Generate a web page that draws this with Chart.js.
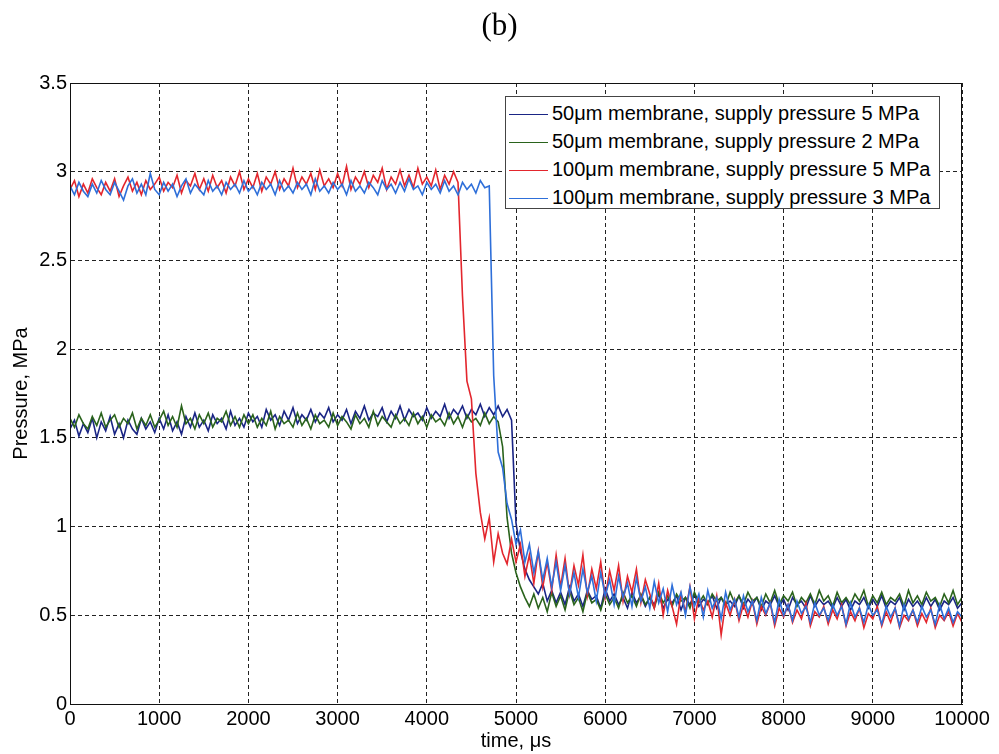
<!DOCTYPE html>
<html lang="en">
<head>
    <meta charset="UTF-8">
    <title>Pressure vs time</title>
    <script src="https://cdn.jsdelivr.net/npm/chart.js"></script>
    <style>
        body {
            margin: 0;
            background: #fff;
            font-family: "Liberation Sans", Arial, sans-serif;
        }
        #wrap {
            position: relative;
            width: 999px;
            height: 754px;
        }
        #legend {
            position: absolute;
            left: 505px;
            top: 96px;
            width: 435px;
            height: 113px;
            border: 1px solid #444;
            background: #fff;
            box-sizing: border-box;
            padding-top: 2px;
        }
        .row {
            height: 28px;
            line-height: 28px;
            font-size: 20px;
            color: #000;
            white-space: nowrap;
        }
        .swatch {
            display: inline-block;
            width: 39px;
            height: 0;
            border-top: 1px solid;
            vertical-align: middle;
            margin-left: 3px;
            margin-right: 4px;
        }
    </style>
</head>
<body>
<div id="wrap">
    <canvas id="chart" width="999" height="754"></canvas>
    <div id="legend"></div>
</div>

<script>
    // time axis, 50 us step from 0 to 10000
    const timeUs = Array.from({ length: 201 }, (_, i) => i * 50);

    const seriesNames = [
        '50\u03bcm membrane, supply pressure 5 MPa',
        '50\u03bcm membrane, supply pressure 2 MPa',
        '100\u03bcm membrane, supply pressure 5 MPa',
        '100\u03bcm membrane, supply pressure 3 MPa'
    ];
    const seriesColors = ['#1a2585', '#2a631c', '#e3262d', '#2e6fd9'];

    const xTickLabels = ['0', '1000', '2000', '3000', '4000', '5000', '6000', '7000', '8000', '9000', '10000'];
    const yTickLabels = ['0', '0.5', '1', '1.5', '2', '2.5', '3', '3.5'];

    // 50um, 5 MPa (navy)
    const p50_5 = [
        1.55,1.60,1.51,1.58,1.53,1.61,1.50,1.59,1.54,1.62,1.52,1.58,1.50,1.60,1.55,1.52,1.61,1.55,1.59,1.53,
        1.61,1.55,1.63,1.54,1.59,1.52,1.62,1.56,1.64,1.56,1.60,1.54,1.63,1.58,1.61,1.55,1.65,1.57,1.61,1.56,
        1.64,1.59,1.62,1.56,1.66,1.60,1.63,1.57,1.65,1.60,1.67,1.58,1.63,1.60,1.66,1.59,1.64,1.61,1.67,1.59,
        1.63,1.60,1.66,1.58,1.65,1.61,1.68,1.60,1.64,1.62,1.67,1.59,1.65,1.61,1.68,1.60,1.66,1.62,1.64,1.60,
        1.67,1.61,1.65,1.62,1.69,1.61,1.66,1.63,1.68,1.61,1.66,1.63,1.69,1.62,1.67,1.63,1.68,1.62,1.66,1.60,
        1.02,0.86,0.76,0.70,0.66,0.62,0.68,0.58,0.64,0.57,
        0.63,0.56,0.66,0.58,0.62,0.55,0.64,0.59,0.61,0.54,0.65,0.58,0.62,0.56,0.60,0.54,0.63,0.57,0.61,0.55,
        0.60,0.56,0.62,0.54,0.59,0.57,0.61,0.53,0.60,0.56,0.62,0.55,0.59,0.57,0.61,0.54,0.60,0.56,0.58,0.55,
        0.61,0.54,0.59,0.56,0.60,0.53,0.58,0.56,0.61,0.55,0.59,0.53,0.60,0.56,0.58,0.54,0.61,0.55,0.59,0.56,
        0.58,0.54,0.60,0.55,0.59,0.53,0.58,0.56,0.60,0.54,0.59,0.55,0.61,0.54,0.58,0.56,0.60,0.53,0.59,0.55,
        0.58,0.54,0.60,0.55,0.59,0.53,0.58,0.56,0.60,0.54,0.57
    ];

    // 50um, 2 MPa (green)
    const p50_2 = [
        1.61,1.56,1.63,1.58,1.55,1.62,1.57,1.64,1.56,1.60,1.63,1.56,1.61,1.58,1.64,1.55,1.61,1.57,1.63,1.56,
        1.60,1.65,1.57,1.62,1.56,1.68,1.58,1.61,1.55,1.63,1.58,1.64,1.56,1.61,1.59,1.65,1.57,1.62,1.56,1.63,
        1.58,1.63,1.56,1.61,1.57,1.65,1.55,1.62,1.58,1.60,1.56,1.64,1.57,1.61,1.55,1.63,1.58,1.60,1.56,1.64,
        1.57,1.62,1.59,1.55,1.63,1.58,1.61,1.56,1.65,1.57,1.62,1.59,1.56,1.63,1.58,1.61,1.57,1.64,1.58,1.62,
        1.56,1.63,1.59,1.61,1.57,1.64,1.58,1.62,1.56,1.63,1.59,1.61,1.57,1.64,1.58,1.62,1.59,
        1.45,1.05,0.85,0.74,0.66,0.60,0.55,0.62,0.54,0.60,0.52,0.63,0.55,
        0.61,0.53,0.64,0.56,0.60,0.52,0.63,0.57,0.59,0.53,0.62,0.56,0.60,0.54,0.63,0.57,0.61,0.55,0.62,0.56,
        0.60,0.54,0.63,0.57,0.61,0.55,0.62,0.58,0.60,0.54,0.63,0.57,0.61,0.56,0.62,0.58,0.60,0.55,0.63,0.57,
        0.61,0.56,0.63,0.58,0.60,0.55,0.62,0.57,0.64,0.56,0.61,0.58,0.63,0.55,0.60,0.57,0.62,0.56,0.64,0.58,
        0.61,0.55,0.63,0.57,0.60,0.56,0.62,0.58,0.64,0.55,0.61,0.57,0.63,0.56,0.60,0.58,0.62,0.55,0.64,0.57,
        0.61,0.56,0.63,0.58,0.60,0.55,0.62,0.57,0.64,0.56,0.60
    ];

    // 100um, 5 MPa (red)
    const p100_5 = [
        2.90,2.95,2.86,2.93,2.88,2.96,2.91,2.87,2.94,2.89,2.96,2.86,2.92,2.97,2.89,2.94,2.87,2.95,2.90,2.93,
        2.97,2.89,2.94,2.91,2.98,2.88,2.95,2.92,2.99,2.90,2.96,2.89,2.98,2.91,2.95,2.88,2.97,2.92,3.00,2.90,
        2.96,2.91,2.99,2.89,2.97,2.93,3.00,2.90,2.96,2.92,3.02,2.91,2.97,2.93,2.99,2.90,3.01,2.92,2.96,2.91,
        2.99,2.92,3.03,2.90,2.97,2.93,3.00,2.91,2.98,2.94,3.02,2.90,2.97,2.93,3.01,2.92,2.98,2.91,3.02,2.93,
        2.97,2.92,3.01,2.90,2.98,2.93,3.00,2.94,
        2.30,1.82,1.72,1.30,1.08,0.93,1.05,0.80,0.96,0.85,0.79,0.93,
        0.80,0.90,0.72,0.84,0.68,0.86,0.66,0.80,0.64,0.84,
        0.66,0.82,0.62,0.78,0.67,0.84,0.61,0.76,0.65,0.80,0.60,0.75,0.64,0.78,0.58,0.72,0.63,0.76,0.57,0.70,
        0.62,0.54,0.68,0.50,0.64,0.55,0.45,0.62,0.52,0.66,0.48,0.60,0.53,0.58,0.49,0.61,0.39,0.57,0.50,0.59,
        0.47,0.56,0.49,0.58,0.45,0.55,0.50,0.57,0.44,0.54,0.49,0.56,0.46,0.53,0.48,0.57,0.44,0.52,0.49,0.55,
        0.45,0.53,0.48,0.56,0.44,0.52,0.47,0.54,0.43,0.51,0.48,0.55,0.44,0.52,0.46,0.54,0.43,0.50,0.47,0.53,
        0.44,0.51,0.46,0.54,0.43,0.50,0.47,0.52,0.44,0.51,0.46
    ];

    // 100um, 3 MPa (light blue)
    const p100_3 = [
        2.92,2.87,2.94,2.89,2.86,2.93,2.88,2.95,2.90,2.87,2.94,2.89,2.84,2.92,2.96,2.88,2.93,2.87,2.99,2.90,
        2.87,2.94,2.89,2.93,2.86,2.92,2.96,2.88,2.93,2.90,2.87,2.95,2.89,2.92,2.87,2.94,2.90,2.93,2.88,2.95,
        2.89,2.92,2.87,2.94,2.90,2.93,2.87,2.95,2.89,2.92,2.88,2.94,2.90,2.93,2.87,2.96,2.89,2.92,2.88,2.94,
        2.90,2.93,2.87,2.95,2.89,2.92,2.88,2.94,2.91,2.87,2.95,2.90,2.93,2.88,2.94,2.89,2.96,2.90,2.92,2.87,
        2.94,2.90,2.93,2.88,2.95,2.89,2.92,2.87,2.94,2.90,2.93,2.88,2.95,2.91,2.92,
        1.85,1.42,1.33,1.13,1.04,0.90,0.98,0.80,0.90,0.74,0.86,0.70,0.82,0.66,0.80,
        0.64,0.78,0.62,0.74,0.60,0.76,0.63,0.72,0.58,0.74,0.61,0.70,0.56,0.72,0.60,0.68,0.55,0.71,0.58,0.66,
        0.54,0.69,0.57,0.65,0.52,0.67,0.56,0.63,0.50,0.66,0.55,0.62,0.49,0.64,0.54,0.60,0.48,0.63,0.53,0.59,
        0.49,0.61,0.52,0.58,0.47,0.60,0.51,0.57,0.46,0.59,0.50,0.56,0.47,0.58,0.51,0.55,0.46,0.57,0.50,0.54,
        0.47,0.56,0.50,0.55,0.45,0.57,0.49,0.54,0.46,0.56,0.50,0.53,0.45,0.55,0.49,0.54,0.44,0.56,0.48,0.53,
        0.46,0.55,0.49,0.53,0.45,0.56,0.48,0.54,0.46,0.52,0.49
    ];

    const allSeries = [p50_5, p50_2, p100_5, p100_3];

    // solid box round the plot, like matlab
    const frame = {
        id: 'frame',
        afterDatasetsDraw(chart) {
            const a = chart.chartArea;
            const ctx = chart.ctx;
            ctx.save();
            ctx.strokeStyle = '#111';
            ctx.lineWidth = 1;
            ctx.strokeRect(a.left + 0.5, a.top + 0.5, a.right - a.left - 1, a.bottom - a.top);
            ctx.restore();
        }
    };

    const datasets = allSeries.map((vals, k) => ({
        label: seriesNames[k],
        data: vals.map((v, i) => ({ x: timeUs[i], y: v })),
        borderColor: seriesColors[k],
        borderWidth: 1.6,
        pointRadius: 0,
        tension: 0,
        fill: false,
        order: 4 - k // last series on top
    }));

    const tickFont = { family: 'Liberation Sans', size: 20 };

    new Chart(document.getElementById('chart'), {
        type: 'line',
        data: { datasets: datasets },
        options: {
            responsive: false,
            animation: false,
            layout: { padding: 0 },
            plugins: {
                legend: { display: false },
                tooltip: { enabled: false },
                title: {
                    display: true,
                    text: '(b)',
                    color: '#000',
                    font: { family: 'Liberation Serif', size: 31, weight: 'normal' },
                    padding: { top: 8.4, bottom: 37.4 }
                }
            },
            scales: {
                x: {
                    type: 'linear',
                    min: 0,
                    max: 10000,
                    afterFit(scale) { scale.height = 50; },
                    ticks: {
                        stepSize: 1000,
                        color: '#000',
                        font: tickFont,
                        padding: 3,
                        maxRotation: 0,
                        callback: (v, i) => xTickLabels[i]
                    },
                    grid: { color: '#222', lineWidth: 1, drawTicks: false },
                    border: { display: true, color: '#111', dash: [4, 3] },
                    title: {
                        display: true,
                        text: 'time, \u03bcs',
                        color: '#000',
                        font: tickFont,
                        padding: { top: 0, bottom: 1 }
                    }
                },
                y: {
                    min: 0,
                    max: 3.5,
                    afterFit(scale) { scale.width = 70; },
                    ticks: {
                        stepSize: 0.5,
                        color: '#000',
                        font: tickFont,
                        padding: 3,
                        callback: (v, i) => yTickLabels[i]
                    },
                    grid: { color: '#222', lineWidth: 1, drawTicks: false },
                    border: { display: true, color: '#111', dash: [4, 3] },
                    title: {
                        display: true,
                        text: 'Pressure, MPa',
                        color: '#000',
                        font: tickFont,
                        padding: { top: 9, bottom: 0 }
                    }
                },
                // empty right margin so the title stays centred on the page
                yRight: {
                    position: 'right',
                    min: 0,
                    max: 3.5,
                    afterFit(scale) { scale.width = 37; },
                    ticks: { display: false },
                    grid: { display: false, drawTicks: false },
                    border: { display: false }
                }
            }
        },
        plugins: [frame]
    });

    // legend box inside the axes
    const legendDiv = document.getElementById('legend');
    seriesNames.forEach((name, k) => {
        const row = document.createElement('div');
        row.className = 'row';
        const sw = document.createElement('span');
        sw.className = 'swatch';
        sw.style.borderTopColor = seriesColors[k];
        row.appendChild(sw);
        row.appendChild(document.createTextNode(name));
        legendDiv.appendChild(row);
    });
</script>
</body>
</html>
